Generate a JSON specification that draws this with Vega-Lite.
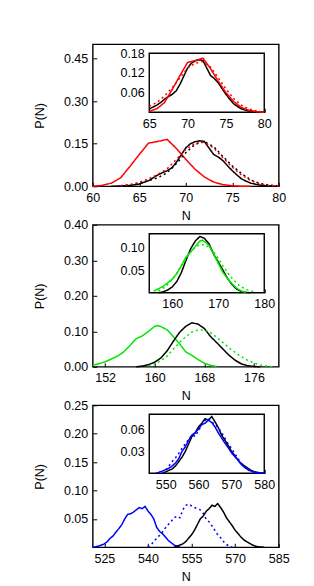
{
  "$schema": "https://vega.github.io/schema/vega-lite/v6.json",
  "background": "white",
  "padding": {"left": 32.75, "top": 43.3, "right": 5, "bottom": 5},
  "config": {
    "view": {"stroke": "black", "strokeWidth": 1.4},
    "font": "Liberation Sans",
    "axis": {"labelFont": "Liberation Sans", "labelFontSize": 12.5, "labelColor": "black", "titleFont": "Liberation Sans", "titleFontSize": 12.5, "titleFontWeight": "normal", "titleColor": "black", "tickColor": "black", "tickSize": -4, "labelPadding": 9, "domain": false, "grid": false, "labelFlush": false, "labelOverlap": false, "tickWidth": 1, "zindex": 1},
    "line": {"strokeWidth": 1.5}
  },
  "datasets": {
    "p1_main": [
      {"series":"model","N":60,"P":0},{"series":"model","N":61,"P":0.003},{"series":"model","N":62,"P":0.011},{"series":"model","N":63,"P":0.03},{"series":"model","N":64,"P":0.07},{"series":"model","N":65,"P":0.112},{"series":"model","N":66,"P":0.152},{"series":"model","N":67,"P":0.158},{"series":"model","N":68,"P":0.165},{"series":"model","N":69,"P":0.133},{"series":"model","N":70,"P":0.095},{"series":"model","N":71,"P":0.06},{"series":"model","N":72,"P":0.033},{"series":"model","N":73,"P":0.015},{"series":"model","N":74,"P":0.006},{"series":"model","N":75,"P":0.002},{"series":"model","N":76,"P":0},{"series":"model","N":77,"P":0},
      {"series":"sim","N":62,"P":0},{"series":"sim","N":63,"P":0.001},{"series":"sim","N":64,"P":0.003},{"series":"sim","N":65,"P":0.008},{"series":"sim","N":66,"P":0.02},{"series":"sim","N":66.5,"P":0.03},{"series":"sim","N":67,"P":0.04},{"series":"sim","N":67.5,"P":0.048},{"series":"sim","N":68,"P":0.055},{"series":"sim","N":68.5,"P":0.065},{"series":"sim","N":69,"P":0.085},{"series":"sim","N":69.5,"P":0.11},{"series":"sim","N":70,"P":0.135},{"series":"sim","N":70.5,"P":0.15},{"series":"sim","N":71,"P":0.157},{"series":"sim","N":71.5,"P":0.16},{"series":"sim","N":72,"P":0.158},{"series":"sim","N":72.5,"P":0.135},{"series":"sim","N":73,"P":0.112},{"series":"sim","N":73.5,"P":0.103},{"series":"sim","N":74,"P":0.09},{"series":"sim","N":74.5,"P":0.072},{"series":"sim","N":75,"P":0.055},{"series":"sim","N":75.5,"P":0.04},{"series":"sim","N":76,"P":0.026},{"series":"sim","N":76.5,"P":0.018},{"series":"sim","N":77,"P":0.011},{"series":"sim","N":77.5,"P":0.007},{"series":"sim","N":78,"P":0.004},{"series":"sim","N":79,"P":0.001},{"series":"sim","N":80,"P":0},
      {"series":"sim fit","N":63,"P":0.002},{"series":"sim fit","N":64,"P":0.005},{"series":"sim fit","N":65,"P":0.01},{"series":"sim fit","N":66,"P":0.02},{"series":"sim fit","N":67,"P":0.03},{"series":"sim fit","N":68,"P":0.048},{"series":"sim fit","N":69,"P":0.08},{"series":"sim fit","N":70,"P":0.118},{"series":"sim fit","N":71,"P":0.148},{"series":"sim fit","N":72,"P":0.157},{"series":"sim fit","N":73,"P":0.14},{"series":"sim fit","N":74,"P":0.105},{"series":"sim fit","N":75,"P":0.072},{"series":"sim fit","N":76,"P":0.045},{"series":"sim fit","N":77,"P":0.022},{"series":"sim fit","N":78,"P":0.01},{"series":"sim fit","N":79,"P":0.004},{"series":"sim fit","N":80,"P":0.001},
      {"series":"model fit","N":63,"P":0.002},{"series":"model fit","N":64,"P":0.006},{"series":"model fit","N":65,"P":0.014},{"series":"model fit","N":66,"P":0.026},{"series":"model fit","N":67,"P":0.042},{"series":"model fit","N":68,"P":0.062},{"series":"model fit","N":69,"P":0.095},{"series":"model fit","N":70,"P":0.13},{"series":"model fit","N":71,"P":0.152},{"series":"model fit","N":72,"P":0.155},{"series":"model fit","N":73,"P":0.135},{"series":"model fit","N":74,"P":0.1},{"series":"model fit","N":75,"P":0.068},{"series":"model fit","N":76,"P":0.04},{"series":"model fit","N":77,"P":0.02},{"series":"model fit","N":78,"P":0.008},{"series":"model fit","N":79,"P":0.003},{"series":"model fit","N":80,"P":0.001}
    ],
    "p1_inset": [
      {"series":"sim","N":65,"P":0.01},{"series":"sim","N":66,"P":0.022},{"series":"sim","N":66.5,"P":0.03},{"series":"sim","N":67,"P":0.04},{"series":"sim","N":67.5,"P":0.048},{"series":"sim","N":68,"P":0.055},{"series":"sim","N":68.5,"P":0.065},{"series":"sim","N":69,"P":0.085},{"series":"sim","N":69.5,"P":0.11},{"series":"sim","N":70,"P":0.135},{"series":"sim","N":70.5,"P":0.15},{"series":"sim","N":71,"P":0.157},{"series":"sim","N":71.5,"P":0.16},{"series":"sim","N":72,"P":0.158},{"series":"sim","N":72.5,"P":0.135},{"series":"sim","N":73,"P":0.112},{"series":"sim","N":73.5,"P":0.103},{"series":"sim","N":74,"P":0.09},{"series":"sim","N":74.5,"P":0.072},{"series":"sim","N":75,"P":0.055},{"series":"sim","N":75.5,"P":0.04},{"series":"sim","N":76,"P":0.026},{"series":"sim","N":76.5,"P":0.018},{"series":"sim","N":77,"P":0.011},{"series":"sim","N":77.5,"P":0.007},{"series":"sim","N":78,"P":0.004},{"series":"sim","N":79,"P":0.001},{"series":"sim","N":80,"P":0},
      {"series":"model","N":65,"P":0.003},{"series":"model","N":66,"P":0.011},{"series":"model","N":67,"P":0.03},{"series":"model","N":68,"P":0.07},{"series":"model","N":69,"P":0.112},{"series":"model","N":70,"P":0.152},{"series":"model","N":71,"P":0.158},{"series":"model","N":72,"P":0.165},{"series":"model","N":73,"P":0.133},{"series":"model","N":74,"P":0.095},{"series":"model","N":75,"P":0.06},{"series":"model","N":76,"P":0.033},{"series":"model","N":77,"P":0.015},{"series":"model","N":78,"P":0.006},{"series":"model","N":79,"P":0.002},{"series":"model","N":80,"P":0},
      {"series":"model fit","N":65,"P":0.018},{"series":"model fit","N":66,"P":0.03},{"series":"model fit","N":67,"P":0.05},{"series":"model fit","N":68,"P":0.075},{"series":"model fit","N":69,"P":0.105},{"series":"model fit","N":70,"P":0.135},{"series":"model fit","N":71,"P":0.15},{"series":"model fit","N":72,"P":0.155},{"series":"model fit","N":73,"P":0.138},{"series":"model fit","N":74,"P":0.105},{"series":"model fit","N":75,"P":0.072},{"series":"model fit","N":76,"P":0.042},{"series":"model fit","N":77,"P":0.022},{"series":"model fit","N":78,"P":0.01},{"series":"model fit","N":79,"P":0.004},{"series":"model fit","N":80,"P":0.001}
    ],
    "p2_main": [
      {"series":"model","N":150,"P":0.004},{"series":"model","N":151,"P":0.009},{"series":"model","N":152,"P":0.014},{"series":"model","N":153,"P":0.022},{"series":"model","N":154,"P":0.03},{"series":"model","N":155,"P":0.042},{"series":"model","N":156,"P":0.06},{"series":"model","N":157,"P":0.079},{"series":"model","N":158,"P":0.087},{"series":"model","N":159,"P":0.1},{"series":"model","N":160,"P":0.114},{"series":"model","N":160.5,"P":0.116},{"series":"model","N":161,"P":0.113},{"series":"model","N":162,"P":0.104},{"series":"model","N":163,"P":0.085},{"series":"model","N":164,"P":0.065},{"series":"model","N":165,"P":0.042},{"series":"model","N":166,"P":0.032},{"series":"model","N":167,"P":0.02},{"series":"model","N":168,"P":0.01},{"series":"model","N":169,"P":0.004},{"series":"model","N":170,"P":0.001},
      {"series":"sim","N":157,"P":0},{"series":"sim","N":158,"P":0.002},{"series":"sim","N":159,"P":0.006},{"series":"sim","N":160,"P":0.013},{"series":"sim","N":161,"P":0.025},{"series":"sim","N":162,"P":0.045},{"series":"sim","N":163,"P":0.072},{"series":"sim","N":164,"P":0.097},{"series":"sim","N":165,"P":0.114},{"series":"sim","N":166,"P":0.124},{"series":"sim","N":167,"P":0.12},{"series":"sim","N":168,"P":0.108},{"series":"sim","N":169,"P":0.085},{"series":"sim","N":170,"P":0.068},{"series":"sim","N":171,"P":0.05},{"series":"sim","N":172,"P":0.032},{"series":"sim","N":173,"P":0.018},{"series":"sim","N":174,"P":0.008},{"series":"sim","N":175,"P":0.003},{"series":"sim","N":176,"P":0.001},{"series":"sim","N":177,"P":0},
      {"series":"model fit","N":159,"P":0.003},{"series":"model fit","N":160,"P":0.008},{"series":"model fit","N":161,"P":0.017},{"series":"model fit","N":162,"P":0.03},{"series":"model fit","N":163,"P":0.05},{"series":"model fit","N":164,"P":0.068},{"series":"model fit","N":165,"P":0.085},{"series":"model fit","N":166,"P":0.098},{"series":"model fit","N":167,"P":0.104},{"series":"model fit","N":168,"P":0.104},{"series":"model fit","N":169,"P":0.096},{"series":"model fit","N":170,"P":0.083},{"series":"model fit","N":171,"P":0.068},{"series":"model fit","N":172,"P":0.053},{"series":"model fit","N":173,"P":0.04},{"series":"model fit","N":174,"P":0.028},{"series":"model fit","N":175,"P":0.018},{"series":"model fit","N":176,"P":0.011},{"series":"model fit","N":177,"P":0.005},{"series":"model fit","N":178,"P":0.002},{"series":"model fit","N":179,"P":0}
    ],
    "p2_inset": [
      {"series":"sim","N":157,"P":0},{"series":"sim","N":158,"P":0.002},{"series":"sim","N":159,"P":0.006},{"series":"sim","N":160,"P":0.013},{"series":"sim","N":161,"P":0.025},{"series":"sim","N":162,"P":0.045},{"series":"sim","N":163,"P":0.072},{"series":"sim","N":164,"P":0.097},{"series":"sim","N":165,"P":0.114},{"series":"sim","N":166,"P":0.124},{"series":"sim","N":167,"P":0.12},{"series":"sim","N":168,"P":0.108},{"series":"sim","N":169,"P":0.085},{"series":"sim","N":170,"P":0.068},{"series":"sim","N":171,"P":0.05},{"series":"sim","N":172,"P":0.032},{"series":"sim","N":173,"P":0.018},{"series":"sim","N":174,"P":0.008},{"series":"sim","N":175,"P":0.003},{"series":"sim","N":176,"P":0.001},{"series":"sim","N":177,"P":0},
      {"series":"model","N":156,"P":0.004},{"series":"model","N":157,"P":0.009},{"series":"model","N":158,"P":0.014},{"series":"model","N":159,"P":0.022},{"series":"model","N":160,"P":0.03},{"series":"model","N":161,"P":0.042},{"series":"model","N":162,"P":0.06},{"series":"model","N":163,"P":0.079},{"series":"model","N":164,"P":0.09},{"series":"model","N":165,"P":0.102},{"series":"model","N":166,"P":0.114},{"series":"model","N":166.5,"P":0.116},{"series":"model","N":167,"P":0.113},{"series":"model","N":168,"P":0.104},{"series":"model","N":169,"P":0.085},{"series":"model","N":170,"P":0.065},{"series":"model","N":171,"P":0.045},{"series":"model","N":172,"P":0.032},{"series":"model","N":173,"P":0.02},{"series":"model","N":174,"P":0.01},{"series":"model","N":175,"P":0.004},{"series":"model","N":176,"P":0.001},
      {"series":"model fit","N":157,"P":0.004},{"series":"model fit","N":158,"P":0.01},{"series":"model fit","N":159,"P":0.018},{"series":"model fit","N":160,"P":0.03},{"series":"model fit","N":161,"P":0.044},{"series":"model fit","N":162,"P":0.06},{"series":"model fit","N":163,"P":0.075},{"series":"model fit","N":164,"P":0.09},{"series":"model fit","N":165,"P":0.1},{"series":"model fit","N":166,"P":0.106},{"series":"model fit","N":167,"P":0.106},{"series":"model fit","N":168,"P":0.1},{"series":"model fit","N":169,"P":0.09},{"series":"model fit","N":170,"P":0.076},{"series":"model fit","N":171,"P":0.06},{"series":"model fit","N":172,"P":0.045},{"series":"model fit","N":173,"P":0.032},{"series":"model fit","N":174,"P":0.021},{"series":"model fit","N":175,"P":0.013},{"series":"model fit","N":176,"P":0.008},{"series":"model fit","N":177,"P":0.004},{"series":"model fit","N":178,"P":0.002}
    ],
    "p3_main": [
      {"series":"model","N":521,"P":0},{"series":"model","N":523,"P":0.002},{"series":"model","N":525,"P":0.006},{"series":"model","N":526,"P":0.01},{"series":"model","N":527,"P":0.016},{"series":"model","N":528,"P":0.02},{"series":"model","N":529,"P":0.027},{"series":"model","N":530,"P":0.033},{"series":"model","N":531,"P":0.04},{"series":"model","N":532,"P":0.05},{"series":"model","N":533,"P":0.058},{"series":"model","N":534,"P":0.059},{"series":"model","N":535,"P":0.062},{"series":"model","N":536,"P":0.066},{"series":"model","N":537,"P":0.07},{"series":"model","N":538,"P":0.068},{"series":"model","N":539,"P":0.072},{"series":"model","N":540,"P":0.064},{"series":"model","N":541,"P":0.058},{"series":"model","N":542,"P":0.05},{"series":"model","N":543,"P":0.035},{"series":"model","N":544,"P":0.028},{"series":"model","N":545,"P":0.024},{"series":"model","N":546,"P":0.018},{"series":"model","N":547,"P":0.012},{"series":"model","N":548,"P":0.008},{"series":"model","N":549,"P":0.004},{"series":"model","N":550,"P":0.002},{"series":"model","N":551,"P":0},
      {"series":"model fit","N":540,"P":0},{"series":"model fit","N":541,"P":0.004},{"series":"model fit","N":542,"P":0.01},{"series":"model fit","N":543,"P":0.016},{"series":"model fit","N":544,"P":0.021},{"series":"model fit","N":545,"P":0.027},{"series":"model fit","N":546,"P":0.034},{"series":"model fit","N":547,"P":0.04},{"series":"model fit","N":548,"P":0.046},{"series":"model fit","N":549,"P":0.052},{"series":"model fit","N":550,"P":0.055},{"series":"model fit","N":551,"P":0.052},{"series":"model fit","N":552,"P":0.066},{"series":"model fit","N":553,"P":0.074},{"series":"model fit","N":554,"P":0.076},{"series":"model fit","N":555,"P":0.073},{"series":"model fit","N":556,"P":0.07},{"series":"model fit","N":557,"P":0.068},{"series":"model fit","N":558,"P":0.066},{"series":"model fit","N":559,"P":0.06},{"series":"model fit","N":560,"P":0.05},{"series":"model fit","N":561,"P":0.045},{"series":"model fit","N":562,"P":0.038},{"series":"model fit","N":563,"P":0.03},{"series":"model fit","N":564,"P":0.022},{"series":"model fit","N":565,"P":0.017},{"series":"model fit","N":566,"P":0.01},{"series":"model fit","N":567,"P":0.005},{"series":"model fit","N":568,"P":0.002},{"series":"model fit","N":569,"P":0},
      {"series":"sim","N":549,"P":0},{"series":"sim","N":550,"P":0.002},{"series":"sim","N":551,"P":0.004},{"series":"sim","N":552,"P":0.006},{"series":"sim","N":553,"P":0.01},{"series":"sim","N":554,"P":0.016},{"series":"sim","N":555,"P":0.022},{"series":"sim","N":556,"P":0.03},{"series":"sim","N":557,"P":0.04},{"series":"sim","N":558,"P":0.05},{"series":"sim","N":559,"P":0.055},{"series":"sim","N":560,"P":0.063},{"series":"sim","N":561,"P":0.068},{"series":"sim","N":562,"P":0.074},{"series":"sim","N":563,"P":0.072},{"series":"sim","N":564,"P":0.077},{"series":"sim","N":565,"P":0.07},{"series":"sim","N":566,"P":0.062},{"series":"sim","N":567,"P":0.052},{"series":"sim","N":568,"P":0.045},{"series":"sim","N":569,"P":0.038},{"series":"sim","N":570,"P":0.03},{"series":"sim","N":571,"P":0.024},{"series":"sim","N":572,"P":0.018},{"series":"sim","N":573,"P":0.013},{"series":"sim","N":574,"P":0.01},{"series":"sim","N":575,"P":0.007},{"series":"sim","N":576,"P":0.004},{"series":"sim","N":577,"P":0.002},{"series":"sim","N":578,"P":0.001},{"series":"sim","N":580,"P":0}
    ],
    "p3_inset": [
      {"series":"sim","N":549,"P":0},{"series":"sim","N":550,"P":0.002},{"series":"sim","N":551,"P":0.004},{"series":"sim","N":552,"P":0.006},{"series":"sim","N":553,"P":0.01},{"series":"sim","N":554,"P":0.016},{"series":"sim","N":555,"P":0.022},{"series":"sim","N":556,"P":0.03},{"series":"sim","N":557,"P":0.04},{"series":"sim","N":558,"P":0.05},{"series":"sim","N":559,"P":0.055},{"series":"sim","N":560,"P":0.063},{"series":"sim","N":561,"P":0.068},{"series":"sim","N":562,"P":0.074},{"series":"sim","N":563,"P":0.072},{"series":"sim","N":564,"P":0.077},{"series":"sim","N":565,"P":0.07},{"series":"sim","N":566,"P":0.062},{"series":"sim","N":567,"P":0.052},{"series":"sim","N":568,"P":0.045},{"series":"sim","N":569,"P":0.038},{"series":"sim","N":570,"P":0.03},{"series":"sim","N":571,"P":0.024},{"series":"sim","N":572,"P":0.018},{"series":"sim","N":573,"P":0.013},{"series":"sim","N":574,"P":0.01},{"series":"sim","N":575,"P":0.007},{"series":"sim","N":576,"P":0.004},{"series":"sim","N":577,"P":0.002},{"series":"sim","N":578,"P":0.001},{"series":"sim","N":580,"P":0},
      {"series":"model","N":547,"P":0},{"series":"model","N":549,"P":0.003},{"series":"model","N":551,"P":0.007},{"series":"model","N":552,"P":0.01},{"series":"model","N":553,"P":0.014},{"series":"model","N":554,"P":0.02},{"series":"model","N":555,"P":0.03},{"series":"model","N":556,"P":0.036},{"series":"model","N":557,"P":0.045},{"series":"model","N":558,"P":0.052},{"series":"model","N":559,"P":0.055},{"series":"model","N":560,"P":0.06},{"series":"model","N":561,"P":0.066},{"series":"model","N":562,"P":0.068},{"series":"model","N":563,"P":0.072},{"series":"model","N":564,"P":0.069},{"series":"model","N":565,"P":0.063},{"series":"model","N":566,"P":0.055},{"series":"model","N":567,"P":0.048},{"series":"model","N":568,"P":0.041},{"series":"model","N":569,"P":0.035},{"series":"model","N":570,"P":0.028},{"series":"model","N":571,"P":0.023},{"series":"model","N":572,"P":0.018},{"series":"model","N":573,"P":0.012},{"series":"model","N":574,"P":0.008},{"series":"model","N":575,"P":0.005},{"series":"model","N":576,"P":0.003},{"series":"model","N":578,"P":0.001},{"series":"model","N":580,"P":0},
      {"series":"model fit","N":549,"P":0},{"series":"model fit","N":550,"P":0.004},{"series":"model fit","N":551,"P":0.01},{"series":"model fit","N":552,"P":0.016},{"series":"model fit","N":553,"P":0.021},{"series":"model fit","N":554,"P":0.027},{"series":"model fit","N":555,"P":0.034},{"series":"model fit","N":556,"P":0.04},{"series":"model fit","N":557,"P":0.046},{"series":"model fit","N":558,"P":0.052},{"series":"model fit","N":559,"P":0.05},{"series":"model fit","N":560,"P":0.058},{"series":"model fit","N":561,"P":0.066},{"series":"model fit","N":562,"P":0.072},{"series":"model fit","N":563,"P":0.074},{"series":"model fit","N":564,"P":0.07},{"series":"model fit","N":565,"P":0.066},{"series":"model fit","N":566,"P":0.062},{"series":"model fit","N":567,"P":0.055},{"series":"model fit","N":568,"P":0.048},{"series":"model fit","N":569,"P":0.04},{"series":"model fit","N":570,"P":0.034},{"series":"model fit","N":571,"P":0.027},{"series":"model fit","N":572,"P":0.02},{"series":"model fit","N":573,"P":0.014},{"series":"model fit","N":574,"P":0.009},{"series":"model fit","N":575,"P":0.005},{"series":"model fit","N":576,"P":0.002},{"series":"model fit","N":577,"P":0}
    ]
  },
  "spacing": 38.5,
  "bounds": "flush",
  "resolve": {"scale": {"color": "independent"}},
  "vconcat": [
    {
      "width": 186, "height": 142,
      "resolve": {"scale": {"x": "independent", "y": "independent"}, "axis": {"x": "independent", "y": "independent"}},
      "layer": [
        {
          "data": {"name": "p1_main"},
          "mark": {"type": "line"},
          "encoding": {
            "x": {"field": "N", "type": "quantitative", "scale": {"domain": [60, 80], "nice": false, "zero": false}, "axis": {"orient": "bottom", "values": [60, 65, 70, 75, 80], "title": "N", "titleX": 93, "titleY": 29, "titleBaseline": "middle"}},
            "y": {"field": "P", "type": "quantitative", "scale": {"domain": [0, 0.5], "nice": false}, "axis": {"orient": "left", "values": [0, 0.15, 0.3, 0.45], "format": ".2f", "title": "P(N)", "titleX": -53, "titleY": 71, "titleBaseline": "middle"}},
            "color": {"field": "series", "type": "nominal", "scale": {"domain": ["sim", "sim fit", "model", "model fit"], "range": ["black", "black", "#ff0000", "#ff0000"]}, "legend": null},
            "strokeDash": {"field": "series", "type": "nominal", "scale": {"domain": ["sim", "sim fit", "model", "model fit"], "range": [[1, 0], [2, 3], [1, 0], [2, 3]]}, "legend": null}
          }
        },
        {
          "layer": [
            {
              "data": {"values": [{}]},
              "mark": {"type": "rect", "fill": "white", "stroke": "black", "strokeWidth": 1.4},
              "encoding": {
                "x": {"datum": 65, "type": "quantitative", "scale": {"domain": [65, 80], "range": [56.5, 171.5], "nice": false, "zero": false}, "axis": {"orient": "bottom", "offset": -74, "values": [65, 70, 75, 80], "title": null}},
                "x2": {"datum": 80},
                "y": {"datum": 0, "type": "quantitative", "scale": {"domain": [0, 0.18], "range": [68, 9], "nice": false}, "axis": {"orient": "left", "offset": -56.5, "values": [0.06, 0.12, 0.18], "format": ".2f", "title": null}},
                "y2": {"datum": 0.18}
              }
            },
            {
              "data": {"name": "p1_inset"},
              "mark": {"type": "line"},
              "encoding": {
                "x": {"field": "N", "type": "quantitative", "title": null},
                "y": {"field": "P", "type": "quantitative", "title": null},
                "color": {"field": "series", "type": "nominal", "legend": null},
                "strokeDash": {"field": "series", "type": "nominal", "legend": null}
              }
            }
          ]
        }
      ]
    },
    {
      "width": 186, "height": 142,
      "resolve": {"scale": {"x": "independent", "y": "independent"}, "axis": {"x": "independent", "y": "independent"}},
      "layer": [
        {
          "data": {"name": "p2_main"},
          "mark": {"type": "line"},
          "encoding": {
            "x": {"field": "N", "type": "quantitative", "scale": {"domain": [150, 180], "nice": false, "zero": false}, "axis": {"orient": "bottom", "values": [152, 160, 168, 176], "title": "N", "titleX": 93, "titleY": 29, "titleBaseline": "middle"}},
            "y": {"field": "P", "type": "quantitative", "scale": {"domain": [0, 0.4], "nice": false}, "axis": {"orient": "left", "values": [0, 0.1, 0.2, 0.3, 0.4], "format": ".2f", "title": "P(N)", "titleX": -53, "titleY": 71, "titleBaseline": "middle"}},
            "color": {"field": "series", "type": "nominal", "scale": {"domain": ["sim", "sim fit", "model", "model fit"], "range": ["black", "black", "#00e600", "#00e600"]}, "legend": null},
            "strokeDash": {"field": "series", "type": "nominal", "scale": {"domain": ["sim", "sim fit", "model", "model fit"], "range": [[1, 0], [2, 3], [1, 0], [2, 3]]}, "legend": null}
          }
        },
        {
          "layer": [
            {
              "data": {"values": [{}]},
              "mark": {"type": "rect", "fill": "white", "stroke": "black", "strokeWidth": 1.4},
              "encoding": {
                "x": {"datum": 155, "type": "quantitative", "scale": {"domain": [155, 180], "range": [56.5, 171.5], "nice": false, "zero": false}, "axis": {"orient": "bottom", "offset": -74, "values": [160, 170, 180], "title": null}},
                "x2": {"datum": 180},
                "y": {"datum": 0, "type": "quantitative", "scale": {"domain": [0, 0.13], "range": [68, 9], "nice": false}, "axis": {"orient": "left", "offset": -56.5, "values": [0.05, 0.1], "format": ".2f", "title": null}},
                "y2": {"datum": 0.13}
              }
            },
            {
              "data": {"name": "p2_inset"},
              "mark": {"type": "line"},
              "encoding": {
                "x": {"field": "N", "type": "quantitative", "title": null},
                "y": {"field": "P", "type": "quantitative", "title": null},
                "color": {"field": "series", "type": "nominal", "legend": null},
                "strokeDash": {"field": "series", "type": "nominal", "legend": null}
              }
            }
          ]
        }
      ]
    },
    {
      "width": 186, "height": 142,
      "resolve": {"scale": {"x": "independent", "y": "independent"}, "axis": {"x": "independent", "y": "independent"}},
      "layer": [
        {
          "data": {"name": "p3_main"},
          "mark": {"type": "line"},
          "encoding": {
            "x": {"field": "N", "type": "quantitative", "scale": {"domain": [521, 585], "nice": false, "zero": false}, "axis": {"orient": "bottom", "values": [525, 540, 555, 570, 585], "title": "N", "titleX": 93, "titleY": 29, "titleBaseline": "middle"}},
            "y": {"field": "P", "type": "quantitative", "scale": {"domain": [0, 0.25], "nice": false}, "axis": {"orient": "left", "values": [0.05, 0.1, 0.15, 0.2, 0.25], "format": ".2f", "title": "P(N)", "titleX": -53, "titleY": 71, "titleBaseline": "middle"}},
            "color": {"field": "series", "type": "nominal", "scale": {"domain": ["sim", "sim fit", "model", "model fit"], "range": ["black", "black", "#0000ff", "#0000ff"]}, "legend": null},
            "strokeDash": {"field": "series", "type": "nominal", "scale": {"domain": ["sim", "sim fit", "model", "model fit"], "range": [[1, 0], [2, 3], [1, 0], [2, 3]]}, "legend": null}
          }
        },
        {
          "layer": [
            {
              "data": {"values": [{}]},
              "mark": {"type": "rect", "fill": "white", "stroke": "black", "strokeWidth": 1.4},
              "encoding": {
                "x": {"datum": 545, "type": "quantitative", "scale": {"domain": [545, 580], "range": [56.5, 171.5], "nice": false, "zero": false}, "axis": {"orient": "bottom", "offset": -74, "values": [550, 560, 570, 580], "title": null}},
                "x2": {"datum": 580},
                "y": {"datum": 0, "type": "quantitative", "scale": {"domain": [0, 0.08], "range": [68, 9], "nice": false}, "axis": {"orient": "left", "offset": -56.5, "values": [0.03, 0.06], "format": ".2f", "title": null}},
                "y2": {"datum": 0.08}
              }
            },
            {
              "data": {"name": "p3_inset"},
              "mark": {"type": "line"},
              "encoding": {
                "x": {"field": "N", "type": "quantitative", "title": null},
                "y": {"field": "P", "type": "quantitative", "title": null},
                "color": {"field": "series", "type": "nominal", "legend": null},
                "strokeDash": {"field": "series", "type": "nominal", "legend": null}
              }
            }
          ]
        }
      ]
    }
  ]
}
